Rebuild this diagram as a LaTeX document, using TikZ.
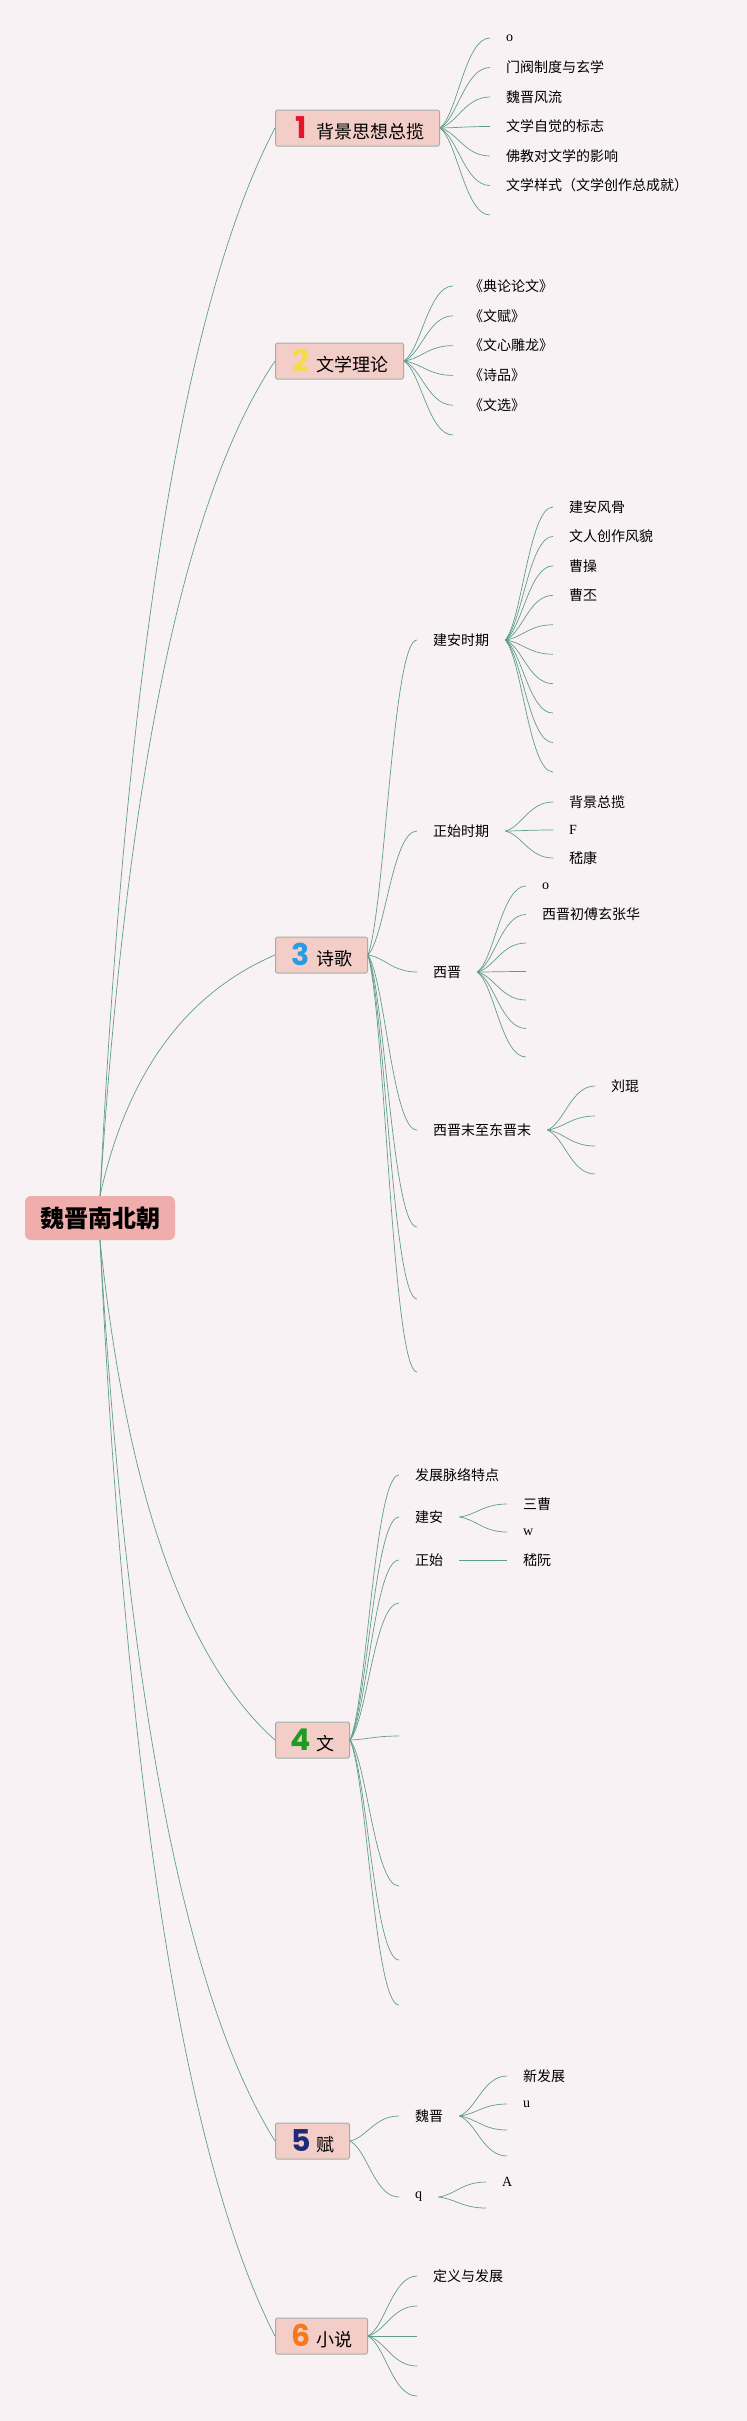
\documentclass[tikz,border=0pt]{standalone}
\usepackage{fontspec}
\setmainfont{Noto Sans CJK SC}
\newfontfamily\numfont{Poppins}
\newfontfamily\latinfont{Liberation Serif}
\usetikzlibrary{calc}
\definecolor{bgpink}{HTML}{F9F2F4}
\definecolor{rootpink}{HTML}{EFAEAB}
\definecolor{topicpink}{HTML}{F3CEC8}
\definecolor{topicedge}{HTML}{9CB1A8}
\definecolor{linkgreen}{HTML}{5E9E8A}
\definecolor{numred}{HTML}{E3142B}
\definecolor{numyellow}{HTML}{F5DC45}
\definecolor{numblue}{HTML}{2B9BE0}
\definecolor{numgreen}{HTML}{1F9A22}
\definecolor{numnavy}{HTML}{1F2A78}
\definecolor{numorange}{HTML}{F8781C}
\newcommand\topictext[3]{\hspace*{17pt}\makebox[17pt]{\numfont\bfseries\fontsize{30}{30}\selectfont\color{#1}#2}\hspace*{7pt}#3\hspace*{15pt}}

\begin{document}
\begin{tikzpicture}[x=1pt, y=-1pt,
        root/.style={fill=rootpink, rounded corners=6pt, minimum width=150pt, minimum height=44pt,
                     inner sep=0pt, font=\fontsize{24}{28}\selectfont\bfseries},
        topic/.style={anchor=west, fill=topicpink, draw=topicedge, line width=1pt, rounded corners=1.5pt,
                      minimum height=36pt, inner sep=0pt, font=\fontsize{18}{22}\selectfont},
        leaf/.style={anchor=west, inner xsep=16pt, inner ysep=0pt, font=\fontsize{14}{17}\selectfont},
        link/.style={draw=linkgreen, line width=0.7pt},
        rootlink/.style={to path={let \p1=(\tikztostart), \p2=(\tikztotarget) in
            .. controls ({\x1+0.153*(\x2-\x1)},{\y1+0.507*(\y2-\y1)}) and ({\x1+0.487*(\x2-\x1)},{\y1+0.84*(\y2-\y1)}) .. (\tikztotarget)}},
        branch/.style={to path={let \p1=(\tikztostart), \p2=(\tikztotarget) in
            .. controls ({\x1+0.35*(\x2-\x1)},{\y1+0.15*(\y2-\y1)}) and ({\x1+0.5*(\x2-\x1)},\y2) .. (\tikztotarget)}}]
    \fill[bgpink] (0,0) rectangle (747,2421);
    \useasboundingbox (0,0) rectangle (747,2421);

    \node[root] (root) at (100,1218) {魏晋南北朝};
    \node[topic] (t1) at (275,128) {\topictext{numred}{1}{背景思想总揽}};
    \node[topic] (t2) at (275,361) {\topictext{numyellow}{2}{文学理论}};
    \node[topic] (t3) at (275,955) {\topictext{numblue}{3}{诗歌}};
    \node[topic] (t4) at (275,1740) {\topictext{numgreen}{4}{文}};
    \node[topic] (t5) at (275,2141) {\topictext{numnavy}{5}{赋}};
    \node[topic] (t6) at (275,2336) {\topictext{numorange}{6}{小说}};
    \foreach \t in {t1,t2,t3}
        \draw[link] (root.north) to[rootlink] (\t.west);
    \foreach \t in {t4,t5,t6}
        \draw[link] (root.south) to[rootlink] (\t.west);

    % 1 背景思想总揽
    \foreach \i in {1,...,7}
        \coordinate (bg\i) at (490,{38+29.5*(\i-1)});
    \foreach \i/\txt in {1/{\latinfont o},2/门阀制度与玄学,3/魏晋风流,4/文学自觉的标志,5/佛教对文学的影响,6/文学样式（文学创作总成就）}
        \node[leaf] (bgl\i) at (bg\i) {\txt};
    \foreach \i in {1,...,7}
        \draw[link] (t1.east) to[branch] (bg\i);

    % 2 文学理论
    \foreach \i in {1,...,6}
        \coordinate (th\i) at (453,{286+29.8*(\i-1)});
    \foreach \i/\txt in {1/《典论论文》,2/《文赋》,3/《文心雕龙》,4/《诗品》,5/《文选》}
        \node[leaf] (thl\i) at (th\i) {\txt};
    \foreach \i in {1,...,6}
        \draw[link] (t2.east) to[branch] (th\i);

    % 3 诗歌
    \foreach \i/\y in {1/640,2/831,3/972,4/1130,5/1227,6/1299,7/1372}
        \coordinate (p\i) at (417,\y);
    \node[leaf] (pjian) at (p1) {建安时期};
    \node[leaf] (pzheng) at (p2) {正始时期};
    \node[leaf] (pxi) at (p3) {西晋};
    \node[leaf] (pdong) at (p4) {西晋末至东晋末};
    \foreach \i in {1,...,7}
        \draw[link] (t3.east) to[branch] (p\i);

    \foreach \i in {1,...,10}
        \coordinate (pj\i) at (553,{507+29.44*(\i-1)});
    \foreach \i/\txt in {1/建安风骨,2/文人创作风貌,3/曹操,4/曹丕}
        \node[leaf] (pjl\i) at (pj\i) {\txt};
    \foreach \i in {1,...,10}
        \draw[link] (pjian.east) to[branch] (pj\i);

    \foreach \i/\y/\txt in {1/802/背景总揽,2/830/{\latinfont F},3/858/嵇康}{
        \coordinate (pz\i) at (553,\y);
        \node[leaf] (pzl\i) at (pz\i) {\txt};
        \draw[link] (pzheng.east) to[branch] (pz\i);
    }

    \foreach \i in {1,...,7}
        \coordinate (px\i) at (526,{886+28.5*(\i-1)});
    \foreach \i/\txt in {1/{\latinfont o},2/西晋初傅玄张华}
        \node[leaf] (pxl\i) at (px\i) {\txt};
    \foreach \i in {1,...,7}
        \draw[link] (pxi.east) to[branch] (px\i);

    \foreach \i/\y in {1/1086,2/1116,3/1146,4/1174}
        \coordinate (pd\i) at (595,\y);
    \node[leaf] (pdl1) at (pd1) {刘琨};
    \foreach \i in {1,...,4}
        \draw[link] (pdong.east) to[branch] (pd\i);

    % 4 文
    \foreach \i/\y in {1/1475,2/1517,3/1560,4/1603,5/1736,6/1886,7/1960,8/2005}
        \coordinate (w\i) at (399,\y);
    \node[leaf] (wdev) at (w1) {发展脉络特点};
    \node[leaf] (wjian) at (w2) {建安};
    \node[leaf] (wzheng) at (w3) {正始};
    \foreach \i in {1,...,8}
        \draw[link] (t4.east) to[branch] (w\i);
    \coordinate (wj1) at (507,1504);
    \coordinate (wj2) at (507,1532);
    \coordinate (wz1) at (507,1560);
    \node[leaf] (wjl1) at (wj1) {三曹};
    \node[leaf] (wjl2) at (wj2) {\latinfont w};
    \node[leaf] (wzl1) at (wz1) {嵇阮};
    \draw[link] (wjian.east) to[branch] (wj1);
    \draw[link] (wjian.east) to[branch] (wj2);
    \draw[link] (wzheng.east) to[branch] (wz1);

    % 5 赋
    \coordinate (f1) at (399,2116);
    \coordinate (f2) at (399,2197);
    \node[leaf] (fwei) at (f1) {魏晋};
    \node[leaf] (fq) at (f2) {\latinfont q};
    \draw[link] (t5.east) to[branch] (f1);
    \draw[link] (t5.east) to[branch] (f2);
    \foreach \i/\y in {1/2076,2/2104,3/2130,4/2156}
        \coordinate (fw\i) at (507,\y);
    \node[leaf] (fwl1) at (fw1) {新发展};
    \node[leaf] (fwl2) at (fw2) {\latinfont u};
    \foreach \i in {1,...,4}
        \draw[link] (fwei.east) to[branch] (fw\i);
    \coordinate (fq1) at (486,2182);
    \coordinate (fq2) at (486,2208);
    \node[leaf] (fql1) at (fq1) {\latinfont A};
    \draw[link] (fq.east) to[branch] (fq1);
    \draw[link] (fq.east) to[branch] (fq2);

    % 6 小说
    \foreach \i in {1,...,5}
        \coordinate (s\i) at (417,{2276+30*(\i-1)});
    \node[leaf] (sl1) at (s1) {定义与发展};
    \foreach \i in {1,...,5}
        \draw[link] (t6.east) to[branch] (s\i);
\end{tikzpicture}
\end{document}
